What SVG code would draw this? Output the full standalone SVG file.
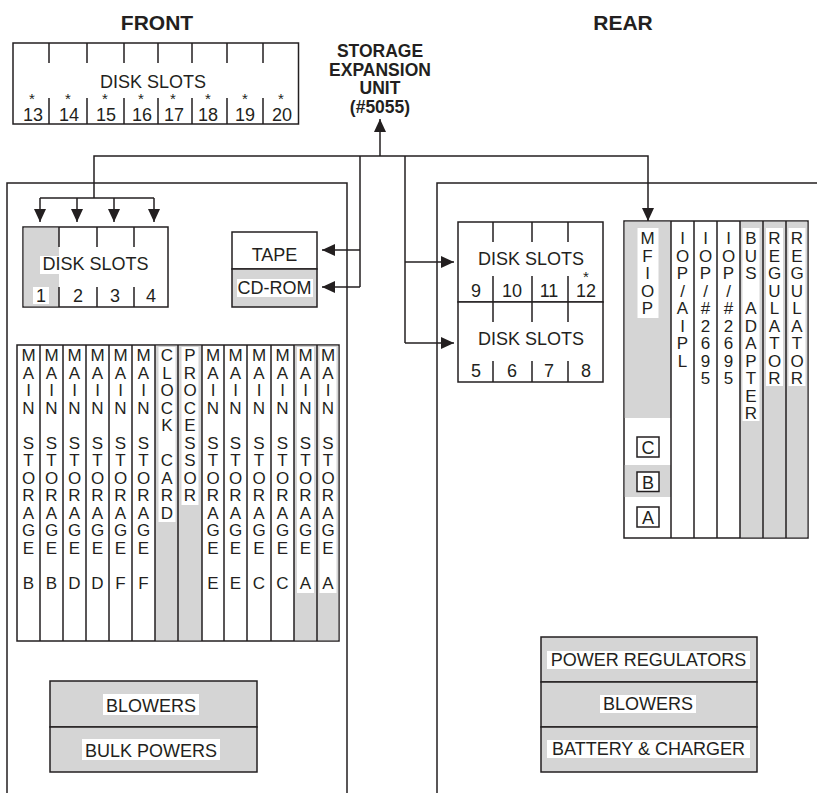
<svg xmlns="http://www.w3.org/2000/svg" width="817" height="793" viewBox="0 0 817 793">
<defs>
<style>
.ln{stroke:#231f20;stroke-width:1.5;fill:none}
.bx{stroke:#231f20;stroke-width:1.5;fill:#fff}
.gf{fill:#d5d5d5;stroke:none}
.gb{fill:#d5d5d5;stroke:#231f20;stroke-width:1.5}
.wb{fill:#fff;stroke:none}
text{font-family:"Liberation Sans",Arial,Helvetica,sans-serif;fill:#231f20;text-anchor:middle}
.t{font-size:18px}
.v{font-size:17px}
.s{font-size:15px}
.h{font-size:21px;font-weight:bold}
.u{font-size:17.5px;font-weight:bold}
</style>
<marker id="ah" viewBox="0 0 13 12" refX="13" refY="6" markerWidth="13" markerHeight="12" markerUnits="userSpaceOnUse" orient="auto">
<path d="M0,0 L13,6 L0,12 z" fill="#231f20"/>
</marker>
</defs>
<rect width="817" height="793" fill="#fff"/>

<g id="titles">
<text class="h" x="157" y="30">FRONT</text>
<text class="h" x="623" y="30">REAR</text>
</g>

<g id="frames">
<path class="ln" d="M7,793 V183 H347 V793"/>
<path class="ln" d="M437,793 V183 H817"/>
</g>

<g id="disk-slots-13-20">
<rect class="bx" x="13" y="43" width="285.5" height="81"/>
<path class="ln" d="M49,43 V63 M87,43 V63 M124,43 V63 M158,43 V63 M192,43 V63 M227,43 V63 M263,43 V63 M49,98 V124 M87,98 V124 M124,98 V124 M158,98 V124 M192,98 V124 M227,98 V124 M263,98 V124"/>
<text class="t" x="153" y="88">DISK SLOTS</text>
<text class="s" x="32 68 105 141 173 208 245 281" y="104">********</text>
<text class="t" x="33" y="121">13</text>
<text class="t" x="69" y="121">14</text>
<text class="t" x="106" y="121">15</text>
<text class="t" x="142" y="121">16</text>
<text class="t" x="174" y="121">17</text>
<text class="t" x="208" y="121">18</text>
<text class="t" x="245" y="121">19</text>
<text class="t" x="282" y="121">20</text>
</g>

<g id="storage-expansion-unit">
<text class="u" x="380" y="57">STORAGE</text>
<text class="u" x="380" y="75.5">EXPANSION</text>
<text class="u" x="380" y="94">UNIT</text>
<text class="u" x="380" y="112.5">(#5055)</text>
</g>

<g id="connectors">
<path class="ln" d="M94,198 V156 H648 V221" marker-end="url(#ah)"/>
<path class="ln" d="M380,156 V119" marker-end="url(#ah)"/>
<path class="ln" d="M40,198 H154"/>
<path class="ln" d="M40,198 V222" marker-end="url(#ah)"/>
<path class="ln" d="M77,198 V222" marker-end="url(#ah)"/>
<path class="ln" d="M114,198 V222" marker-end="url(#ah)"/>
<path class="ln" d="M154,198 V222" marker-end="url(#ah)"/>
<path class="ln" d="M360,156 V287"/>
<path class="ln" d="M360,250 H322" marker-end="url(#ah)"/>
<path class="ln" d="M360,287 H322" marker-end="url(#ah)"/>
<path class="ln" d="M405,156 V343"/>
<path class="ln" d="M405,262 H454" marker-end="url(#ah)"/>
<path class="ln" d="M405,343 H454" marker-end="url(#ah)"/>
</g>

<g id="disk-slots-1-4">
<rect class="bx" x="23" y="227" width="145" height="80"/>
<rect class="gf" x="23.75" y="227.75" width="35.25" height="78.5"/>
<path class="ln" d="M59,227 V247 M97,227 V247 M134,227 V247 M59,287 V307 M97,287 V307 M134,287 V307"/>
<rect class="wb" x="40" y="256" width="111" height="18"/>
<text class="t" x="95.5" y="270">DISK SLOTS</text>
<rect class="wb" x="33" y="287" width="16" height="17"/>
<text class="t" x="41" y="302">1</text>
<text class="t" x="78" y="302">2</text>
<text class="t" x="115" y="302">3</text>
<text class="t" x="151" y="302">4</text>
</g>

<g id="tape">
<rect class="bx" x="232" y="232" width="85" height="37"/>
<text class="t" x="274.5" y="261">TAPE</text>
</g>
<g id="cd-rom">
<rect class="gb" x="232" y="269" width="85" height="38"/>
<rect class="wb" x="237" y="279" width="76" height="18"/>
<text class="t" x="274.5" y="294">CD-ROM</text>
</g>

<g id="disk-slots-9-12">
<rect class="bx" x="458" y="222" width="145" height="80"/>
<path class="ln" d="M493,222 V242 M532,222 V242 M568,222 V242 M493,276 V302 M532,276 V302 M568,276 V302"/>
<text class="t" x="531" y="265">DISK SLOTS</text>
<text class="s" x="586" y="282">*</text>
<text class="t" x="476" y="297">9</text>
<text class="t" x="512" y="297">10</text>
<text class="t" x="549" y="297">11</text>
<text class="t" x="586" y="297">12</text>
</g>
<g id="disk-slots-5-8">
<rect class="bx" x="458" y="302" width="145" height="80"/>
<path class="ln" d="M493,302 V322 M532,302 V322 M568,302 V322 M493,361 V382 M532,361 V382 M568,361 V382"/>
<text class="t" x="531" y="345">DISK SLOTS</text>
<text class="t" x="476" y="377">5</text>
<text class="t" x="512" y="377">6</text>
<text class="t" x="549" y="377">7</text>
<text class="t" x="586" y="377">8</text>
</g>

<g id="front-cards">
<rect class="bx" x="17" y="345" width="322" height="296"/>
<rect class="gf" x="155" y="345.75" width="47" height="294.5"/>
<rect class="gf" x="294" y="345.75" width="44.25" height="294.5"/>
<path class="ln" d="M40,345 V641 M63,345 V641 M86,345 V641 M109,345 V641 M132,345 V641 M155,345 V641 M178,345 V641 M202,345 V641 M224,345 V641 M247,345 V641 M271,345 V641 M294,345 V641 M317,345 V641"/>
<rect class="wb" x="158.5" y="347" width="17" height="175"/>
<rect class="wb" x="181.5" y="347" width="17" height="158"/>
<rect class="wb" x="297" y="347" width="17" height="246"/>
<rect class="wb" x="319.5" y="347" width="17" height="246"/>
</g>
<g id="main-storage-b1"><text class="v" x="28.5 28.5 28.5 28.5 28.5 28.5 28.5 28.5 28.5 28.5 28.5 28.5" y="361 378.5 396 413.5 448.5 466 483.5 501 518.5 536 553.5 588.5">MAINSTORAGEB</text></g>
<g id="main-storage-b2"><text class="v" x="51.5 51.5 51.5 51.5 51.5 51.5 51.5 51.5 51.5 51.5 51.5 51.5" y="361 378.5 396 413.5 448.5 466 483.5 501 518.5 536 553.5 588.5">MAINSTORAGEB</text></g>
<g id="main-storage-d1"><text class="v" x="74.5 74.5 74.5 74.5 74.5 74.5 74.5 74.5 74.5 74.5 74.5 74.5" y="361 378.5 396 413.5 448.5 466 483.5 501 518.5 536 553.5 588.5">MAINSTORAGED</text></g>
<g id="main-storage-d2"><text class="v" x="97.5 97.5 97.5 97.5 97.5 97.5 97.5 97.5 97.5 97.5 97.5 97.5" y="361 378.5 396 413.5 448.5 466 483.5 501 518.5 536 553.5 588.5">MAINSTORAGED</text></g>
<g id="main-storage-f1"><text class="v" x="120.5 120.5 120.5 120.5 120.5 120.5 120.5 120.5 120.5 120.5 120.5 120.5" y="361 378.5 396 413.5 448.5 466 483.5 501 518.5 536 553.5 588.5">MAINSTORAGEF</text></g>
<g id="main-storage-f2"><text class="v" x="143.5 143.5 143.5 143.5 143.5 143.5 143.5 143.5 143.5 143.5 143.5 143.5" y="361 378.5 396 413.5 448.5 466 483.5 501 518.5 536 553.5 588.5">MAINSTORAGEF</text></g>
<g id="clock-card"><text class="v" x="167 167 167 167 167 167 167 167 167" y="361 378.5 396 413.5 431 466 483.5 501 518.5">CLOCKCARD</text></g>
<g id="processor"><text class="v" x="190 190 190 190 190 190 190 190 190" y="361 378.5 396 413.5 431 448.5 466 483.5 501">PROCESSOR</text></g>
<g id="main-storage-e1"><text class="v" x="213 213 213 213 213 213 213 213 213 213 213 213" y="361 378.5 396 413.5 448.5 466 483.5 501 518.5 536 553.5 588.5">MAINSTORAGEE</text></g>
<g id="main-storage-e2"><text class="v" x="235.5 235.5 235.5 235.5 235.5 235.5 235.5 235.5 235.5 235.5 235.5 235.5" y="361 378.5 396 413.5 448.5 466 483.5 501 518.5 536 553.5 588.5">MAINSTORAGEE</text></g>
<g id="main-storage-c1"><text class="v" x="259 259 259 259 259 259 259 259 259 259 259 259" y="361 378.5 396 413.5 448.5 466 483.5 501 518.5 536 553.5 588.5">MAINSTORAGEC</text></g>
<g id="main-storage-c2"><text class="v" x="282.5 282.5 282.5 282.5 282.5 282.5 282.5 282.5 282.5 282.5 282.5 282.5" y="361 378.5 396 413.5 448.5 466 483.5 501 518.5 536 553.5 588.5">MAINSTORAGEC</text></g>
<g id="main-storage-a1"><text class="v" x="305.5 305.5 305.5 305.5 305.5 305.5 305.5 305.5 305.5 305.5 305.5 305.5" y="361 378.5 396 413.5 448.5 466 483.5 501 518.5 536 553.5 588.5">MAINSTORAGEA</text></g>
<g id="main-storage-a2"><text class="v" x="328 328 328 328 328 328 328 328 328 328 328 328" y="361 378.5 396 413.5 448.5 466 483.5 501 518.5 536 553.5 588.5">MAINSTORAGEA</text></g>

<g id="rear-cards">
<rect class="bx" x="624" y="221" width="184" height="317"/>
<rect class="gf" x="624.75" y="221.75" width="46.25" height="196.25"/>
<rect class="gf" x="624.75" y="465" width="46.25" height="32"/>
<rect class="gf" x="740" y="221.75" width="67.25" height="315.5"/>
<path class="ln" d="M671,221 V538 M694,221 V538 M717,221 V538 M740,221 V538 M763,221 V538 M786,221 V538"/>
<rect class="wb" x="637.5" y="228" width="21" height="90"/>
<rect class="wb" x="742.5" y="228" width="17" height="193"/>
<rect class="wb" x="766" y="228" width="17" height="158"/>
<rect class="wb" x="788.5" y="228" width="17" height="158"/>
</g>
<g id="mfiop">
<text class="v" x="647.5 647.5 647.5 647.5 647.5" y="244 261.5 279 296.5 314">MFIOP</text>
<rect class="bx" x="637" y="437" width="22" height="20"/>
<text class="t" x="648" y="454">C</text>
<rect class="bx" x="637" y="472" width="22" height="19.5"/>
<text class="t" x="648" y="488.5">B</text>
<rect class="bx" x="637" y="507" width="22" height="20"/>
<text class="t" x="648" y="524">A</text>
</g>
<g id="iop-aipl"><text class="v" x="682.5 682.5 682.5 682.5 682.5 682.5 682.5 682.5" y="244 261.5 279 296.5 314 331.5 349 366.5">IOP/AIPL</text></g>
<g id="iop-2695-1"><text class="v" x="705.5 705.5 705.5 705.5 705.5 705.5 705.5 705.5 705.5" y="244 261.5 279 296.5 314 331.5 349 366.5 384">IOP/#2695</text></g>
<g id="iop-2695-2"><text class="v" x="728.5 728.5 728.5 728.5 728.5 728.5 728.5 728.5 728.5" y="244 261.5 279 296.5 314 331.5 349 366.5 384">IOP/#2695</text></g>
<g id="bus-adapter"><text class="v" x="751 751 751 751 751 751 751 751 751 751" y="244 261.5 279 314 331.5 349 366.5 384 401.5 419">BUSADAPTER</text></g>
<g id="regulator-1"><text class="v" x="774.5 774.5 774.5 774.5 774.5 774.5 774.5 774.5 774.5" y="244 261.5 279 296.5 314 331.5 349 366.5 384">REGULATOR</text></g>
<g id="regulator-2"><text class="v" x="797 797 797 797 797 797 797 797 797" y="244 261.5 279 296.5 314 331.5 349 366.5 384">REGULATOR</text></g>

<g id="front-blowers">
<rect class="gb" x="50" y="681" width="207" height="46"/>
<rect class="wb" x="103" y="694" width="96" height="21"/>
<text class="t" x="151" y="712">BLOWERS</text>
</g>
<g id="bulk-powers">
<rect class="gb" x="50" y="727" width="207" height="45"/>
<rect class="wb" x="82" y="739" width="138" height="21"/>
<text class="t" x="151" y="757">BULK POWERS</text>
</g>

<g id="power-regulators">
<rect class="gb" x="541" y="637" width="216" height="45"/>
<rect class="wb" x="547" y="651" width="203" height="18"/>
<text class="t" x="648.5" y="666">POWER REGULATORS</text>
</g>
<g id="rear-blowers">
<rect class="gb" x="541" y="682" width="216" height="45"/>
<rect class="wb" x="600" y="695" width="96" height="18"/>
<text class="t" x="648" y="710">BLOWERS</text>
</g>
<g id="battery-charger">
<rect class="gb" x="541" y="727" width="216" height="45"/>
<rect class="wb" x="547" y="740" width="203" height="18"/>
<text class="t" x="648.5" y="755">BATTERY &amp; CHARGER</text>
</g>
</svg>
